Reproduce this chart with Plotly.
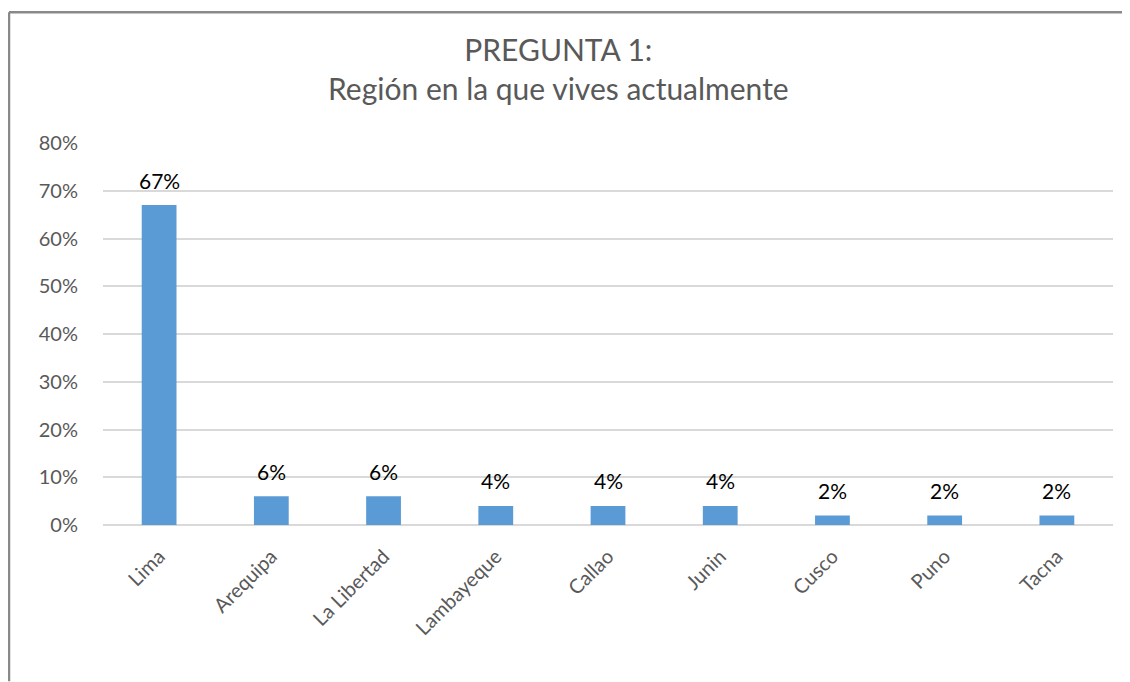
import plotly.graph_objects as go

categories = ["Lima", "Arequipa", "La Libertad", "Lambayeque", "Callao", "Junin", "Cusco", "Puno", "Tacna"]
values = [0.67, 0.06, 0.06, 0.04, 0.04, 0.04, 0.02, 0.02, 0.02]
labels = ["67%", "6%", "6%", "4%", "4%", "4%", "2%", "2%", "2%"]
y_ticks = [0, 0.1, 0.2, 0.3, 0.4, 0.5, 0.6, 0.7, 0.8]
y_ticktext = ["0%", "10%", "20%", "30%", "40%", "50%", "60%", "70%", "80%"]

FONT = "Lato, 'Open Sans', sans-serif"
# page body has an 8px margin; compensate so the figure lands like the reference
W, H = 1122, 674
L, R, T, B = 95, 17, 135, 156.5
PW, PH = W - L - R, H - T - B

fig = go.Figure()
fig.add_trace(go.Bar(
    x=categories, y=values,
    marker=dict(color="#5B9BD5", line=dict(width=0)),
    width=0.31, hoverinfo="skip",
))

annotations = [
    dict(x=c, y=v, text=t, xref="x", yref="y", showarrow=False,
         yanchor="middle", xanchor="center", yshift=25,
         font=dict(family=FONT, size=21, color="#000000"))
    for c, v, t in zip(categories, values, labels)
]
annotations.append(
    dict(text="PREGUNTA 1:<br>Región en la que vives actualmente",
         xref="paper", yref="paper",
         x=(550 - L) / PW, y=1 + (T - 60) / PH,
         xanchor="center", yanchor="middle", showarrow=False,
         font=dict(family=FONT, size=30, color="#595959"))
)

border_left = -(L - 1) / PW
border_top = 1 + (T - 4) / PH
border = dict(color="#898989", width=2.5)

fig.update_layout(
    width=W, height=H,
    margin=dict(l=L, r=R, t=T, b=B, pad=0),
    paper_bgcolor="white", plot_bgcolor="white",
    showlegend=False,
    font=dict(family=FONT, color="#595959"),
    xaxis=dict(
        tickangle=-45, tickfont=dict(family=FONT, size=20, color="#595959"),
        showgrid=False, showline=False, ticks="", zeroline=False,
        ticklabelstandoff=15,
    ),
    yaxis=dict(
        range=[0, 0.8], tickvals=y_ticks, ticktext=y_ticktext,
        tickfont=dict(family=FONT, size=20, color="#595959"),
        showgrid=True, gridcolor="#D9D9D9", gridwidth=2,
        zeroline=True, zerolinecolor="#D9D9D9", zerolinewidth=2,
        showline=False, ticks="", ticklabelstandoff=24,
    ),
    annotations=annotations,
    shapes=[
        dict(type="line", xref="paper", yref="paper",
             x0=border_left, x1=border_left, y0=-B / PH, y1=border_top,
             line=border, layer="below"),
        dict(type="line", xref="paper", yref="paper",
             x0=border_left, x1=1 + R / PW, y0=border_top, y1=border_top,
             line=border, layer="below"),
    ],
)

fig.write_html("out.html", config={"displayModeBar": False})
